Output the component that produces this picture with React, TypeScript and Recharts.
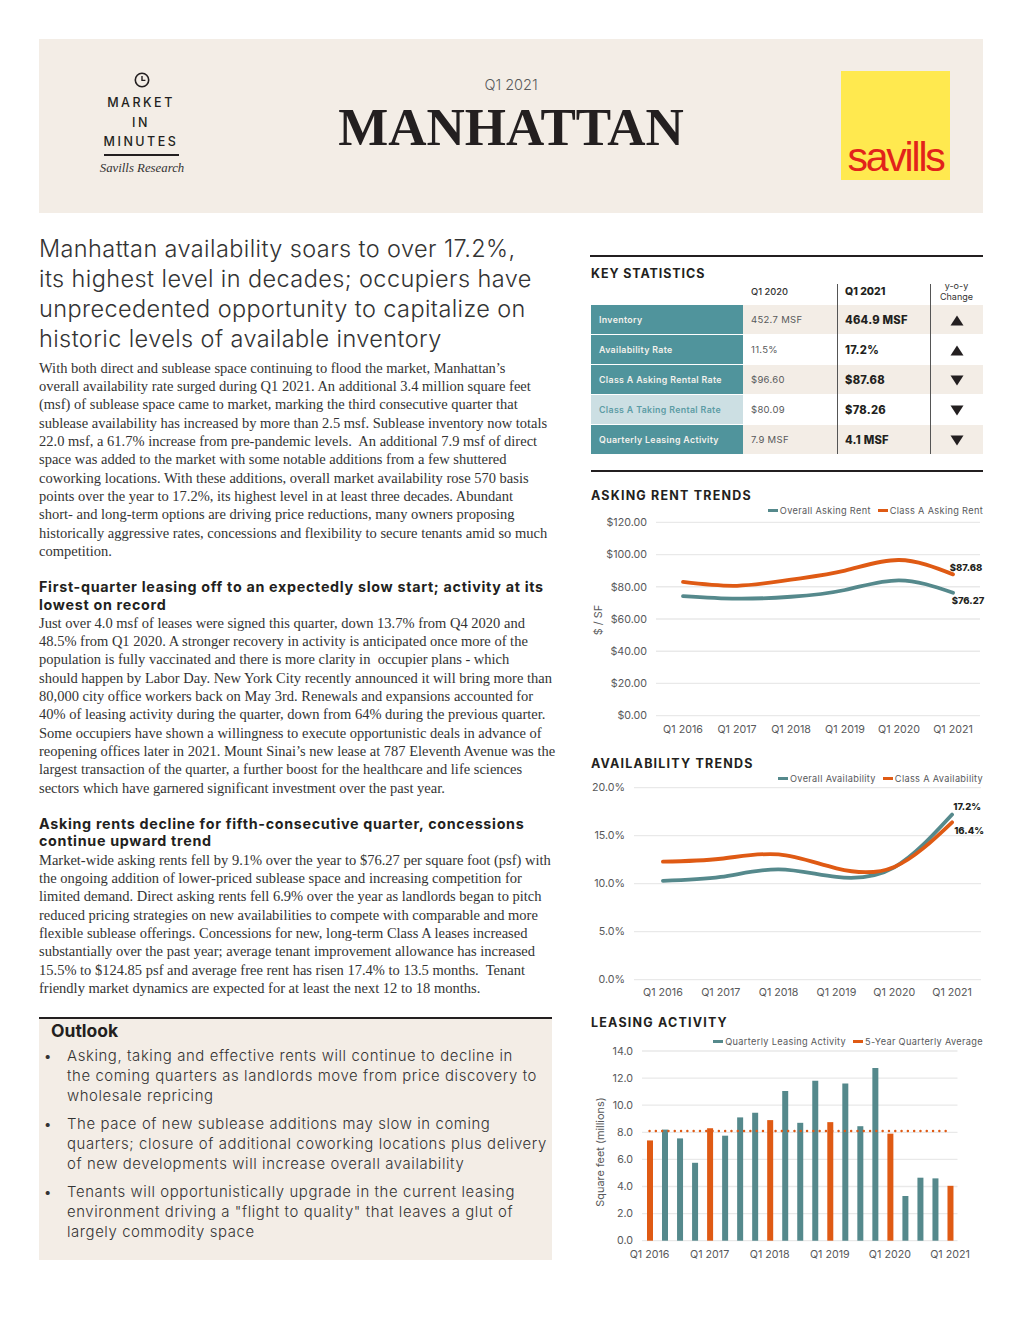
import React from 'react';
import {
  LineChart, Line, ComposedChart, Bar, Cell, XAxis, YAxis, CartesianGrid, Legend,
} from 'recharts';

const TEAL = '#55898C';
const ORANGE = '#DF5A14';
const BEIGE = '#F3EDE6';
const INK = '#231F20';
const GREY = '#58595B';
const SANS = 'Inter, "Open Sans", sans-serif';
const SERIF = '"Liberation Serif", serif';

const years = ['Q1 2016', 'Q1 2017', 'Q1 2018', 'Q1 2019', 'Q1 2020', 'Q1 2021'];

const overallRent = [74.2, 72.6, 73.8, 78.0, 84.0, 76.27];
const classARent = [83.0, 80.6, 84.4, 90.0, 96.6, 87.68];
const rentTicks = [0, 20, 40, 60, 80, 100, 120];

const overallAvail = [10.3, 10.7, 11.5, 10.7, 11.7, 17.2];
const classAAvail = [12.3, 12.6, 13.05, 11.6, 11.75, 16.4];
const availTicks = [0, 5, 10, 15, 20];

const quarters = [
  'Q1 2016', 'Q2 2016', 'Q3 2016', 'Q4 2016',
  'Q1 2017', 'Q2 2017', 'Q3 2017', 'Q4 2017',
  'Q1 2018', 'Q2 2018', 'Q3 2018', 'Q4 2018',
  'Q1 2019', 'Q2 2019', 'Q3 2019', 'Q4 2019',
  'Q1 2020', 'Q2 2020', 'Q3 2020', 'Q4 2020',
  'Q1 2021',
];
const leasing = [7.4, 8.2, 7.55, 5.75, 8.3, 7.75, 9.1, 9.45, 8.9, 11.05, 8.7, 11.8, 8.75, 11.6, 8.45, 12.75, 7.9, 3.3, 4.65, 4.6, 4.05];
const fiveYearAvg = [8.1, 8.1, 8.1, 8.1, 8.1, 8.1, 8.1, 8.1, 8.1, 8.1, 8.1, 8.1, 8.1, 8.1, 8.1, 8.1, 8.1, 8.1, 8.1, 8.1, 8.1];
const leasingTicks = [0, 2, 4, 6, 8, 10, 12, 14];

const rentData = years.map((q, i) => ({ q, overall: overallRent[i], classA: classARent[i] }));
const availData = years.map((q, i) => ({ q, overall: overallAvail[i], classA: classAAvail[i] }));
const leasingData = quarters.map((q, i) => ({ q, leasing: leasing[i], avg: fiveYearAvg[i] }));

const statLabels = ['Inventory', 'Availability Rate', 'Class A Asking Rental Rate', 'Class A Taking Rental Rate', 'Quarterly Leasing Activity'];
const statPrev = ['452.7 MSF', '11.5%', '$96.60', '$80.09', '7.9 MSF'];
const statCurr = ['464.9 MSF', '17.2%', '$87.68', '$78.26', '4.1 MSF'];
const statUp = [true, true, false, false, false];

const headline = [
  'Manhattan availability soars to over 17.2%,',
  'its highest level in decades; occupiers have',
  'unprecedented opportunity to capitalize on',
  'historic levels of available inventory',
];
const para1 = [
  'With both direct and sublease space continuing to flood the market, Manhattan’s',
  'overall availability rate surged during Q1 2021. An additional 3.4 million square feet',
  '(msf) of sublease space came to market, marking the third consecutive quarter that',
  'sublease availability has increased by more than 2.5 msf. Sublease inventory now totals',
  '22.0 msf, a 61.7% increase from pre-pandemic levels.  An additional 7.9 msf of direct',
  'space was added to the market with some notable additions from a few shuttered',
  'coworking locations. With these additions, overall market availability rose 570 basis',
  'points over the year to 17.2%, its highest level in at least three decades. Abundant',
  'short- and long-term options are driving price reductions, many owners proposing',
  'historically aggressive rates, concessions and flexibility to secure tenants amid so much',
  'competition.',
];
const head2 = [
  'First-quarter leasing off to an expectedly slow start; activity at its',
  'lowest on record',
];
const para2 = [
  'Just over 4.0 msf of leases were signed this quarter, down 13.7% from Q4 2020 and',
  '48.5% from Q1 2020. A stronger recovery in activity is anticipated once more of the',
  'population is fully vaccinated and there is more clarity in  occupier plans - which',
  'should happen by Labor Day. New York City recently announced it will bring more than',
  '80,000 city office workers back on May 3rd. Renewals and expansions accounted for',
  '40% of leasing activity during the quarter, down from 64% during the previous quarter.',
  'Some occupiers have shown a willingness to execute opportunistic deals in advance of',
  'reopening offices later in 2021. Mount Sinai’s new lease at 787 Eleventh Avenue was the',
  'largest transaction of the quarter, a further boost for the healthcare and life sciences',
  'sectors which have garnered significant investment over the past year.',
];
const head3 = [
  'Asking rents decline for fifth-consecutive quarter, concessions',
  'continue upward trend',
];
const para3 = [
  'Market-wide asking rents fell by 9.1% over the year to $76.27 per square foot (psf) with',
  'the ongoing addition of lower-priced sublease space and increasing competition for',
  'limited demand. Direct asking rents fell 6.9% over the year as landlords began to pitch',
  'reduced pricing strategies on new availabilities to compete with comparable and more',
  'flexible sublease offerings. Concessions for new, long-term Class A leases increased',
  'substantially over the past year; average tenant improvement allowance has increased',
  '15.5% to $124.85 psf and average free rent has risen 17.4% to 13.5 months.  Tenant',
  'friendly market dynamics are expected for at least the next 12 to 18 months.',
];
const outlook = [
  ['Asking, taking and effective rents will continue to decline in', 'the coming quarters as landlords move from price discovery to', 'wholesale repricing'],
  ['The pace of new sublease additions may slow in coming', 'quarters; closure of additional coworking locations plus delivery', 'of new developments will increase overall availability'],
  ['Tenants will opportunistically upgrade in the current leasing', 'environment driving a "flight to quality" that leaves a glut of', 'largely commodity space'],
];

// one absolutely placed block of text, cy = centre of first line
const Text: React.FC<{ x: number; cy: number; lh?: number; lines: string[]; style?: React.CSSProperties; width?: number }> = ({ x, cy, lh = 18.3, lines, style, width }) => (
  <div style={{ position: 'absolute', left: x, top: cy - lh / 2, width, lineHeight: `${lh}px`, whiteSpace: 'pre', ...style }}>
    {lines.map((l, i) => <div key={i} style={{ height: lh }}>{l}</div>)}
  </div>
);

const Box: React.FC<{ x: number; y: number; w: number; h: number; bg: string }> = ({ x, y, w, h, bg }) => (
  <div style={{ position: 'absolute', left: x, top: y, width: w, height: h, background: bg }} />
);

const SectionTitle: React.FC<{ x?: number; cy: number; label: string; spacing?: number }> = ({ x = 591, cy, label, spacing = 1.2 }) => (
  <Text x={x} cy={cy} lh={18} lines={[label]} style={{ fontFamily: SANS, fontWeight: 700, fontSize: 12.5, letterSpacing: spacing, color: INK }} />
);

const ChartLegend = ({ payload, gap = 7 }: any) => (
  <div style={{ display: 'flex', alignItems: 'center', fontFamily: SANS, fontSize: 9.2, letterSpacing: 0.33, color: GREY, whiteSpace: 'nowrap' }}>
    {(payload || []).map((p: any, i: number) => (
      <span key={p.value} style={{ display: 'flex', alignItems: 'center', marginLeft: i ? gap : 0 }}>
        <span style={{ display: 'inline-block', width: 10, height: 2.5, background: p.color, marginRight: 2 }} />
        {p.value}
      </span>
    ))}
  </div>
);

const endLabel = (lastIndex: number, dx: number, dy: number, fmt: (v: number) => string) => (props: any) => {
  if (props.index !== lastIndex) return <g key={props.index} />;
  return (
    <text key={props.index} x={props.x + dx} y={props.y + dy} textAnchor="middle" dominantBaseline="central"
      style={{ fontFamily: SANS, fontSize: 9.5, fontWeight: 800, fill: INK }}>
      {fmt(props.value)}
    </text>
  );
};

const tickStyle = { fill: GREY, fontSize: 10.7, fontFamily: SANS };
const axisTitle = { fill: GREY, fontSize: 10.9, fontFamily: SANS };
const gridColor = '#E9E9E9';

const RentChart = () => (
  <div style={{ position: 'absolute', left: 585, top: 500 }}>
    <LineChart width={425} height={240} data={rentData} margin={{ top: 22.3, right: 30, left: 0, bottom: 0.3 }}>
      <CartesianGrid horizontal vertical={false} stroke={gridColor} strokeWidth={1.3} />
      <XAxis dataKey="q" scale="band" tick={tickStyle} tickLine={false} axisLine={false} tickSize={0} tickMargin={10} height={24} interval={0} />
      <YAxis width={71} domain={[0, 120]} ticks={rentTicks} tick={tickStyle} tickLine={false} axisLine={false} tickSize={0} tickMargin={9}
        tickFormatter={(v: number) => `$${v.toFixed(2)}`} />
      <text x={13} y={120} transform="rotate(-90 13 120)" textAnchor="middle" dominantBaseline="central" style={axisTitle}>$ / SF</text>
      <Legend layout="vertical" align="center" verticalAlign="middle" itemSorter={null}
        wrapperStyle={{ top: 5, right: 27, left: 'auto', width: 'auto' }} content={<ChartLegend />} />
      <Line dataKey="overall" name="Overall Asking Rent" type="natural" stroke={TEAL} strokeWidth={3.8} strokeLinecap="round" dot={false} isAnimationActive={false}
        label={endLabel(5, 15, 8, v => `$${v.toFixed(2)}`)} />
      <Line dataKey="classA" name="Class A Asking Rent" type="natural" stroke={ORANGE} strokeWidth={3.8} strokeLinecap="round" dot={false} isAnimationActive={false}
        label={endLabel(5, 13, -7, v => `$${v.toFixed(2)}`)} />
    </LineChart>
  </div>
);

const AvailChart = () => (
  <div style={{ position: 'absolute', left: 585, top: 766 }}>
    <LineChart width={425} height={240} data={availData} margin={{ top: 21.7, right: 29, left: 0, bottom: 0.3 }}>
      <CartesianGrid horizontal vertical={false} stroke={gridColor} strokeWidth={1.3} />
      <XAxis dataKey="q" scale="band" tick={tickStyle} tickLine={false} axisLine={false} tickSize={0} tickMargin={9} height={26} interval={0} />
      <YAxis width={49} domain={[0, 20]} ticks={availTicks} tick={tickStyle} tickLine={false} axisLine={false} tickSize={0} tickMargin={9}
        tickFormatter={(v: number) => `${v.toFixed(1)}%`} />
      <Legend layout="vertical" align="center" verticalAlign="middle" itemSorter={null}
        wrapperStyle={{ top: 7, right: 27, left: 'auto', width: 'auto' }} content={<ChartLegend />} />
      <Line dataKey="overall" name="Overall Availability" type="natural" stroke={TEAL} strokeWidth={3.8} strokeLinecap="round" dot={false} isAnimationActive={false}
        label={endLabel(5, 15, -8, v => `${v.toFixed(1)}%`)} />
      <Line dataKey="classA" name="Class A Availability" type="natural" stroke={ORANGE} strokeWidth={3.8} strokeLinecap="round" dot={false} isAnimationActive={false}
        label={endLabel(5, 17, 8, v => `${v.toFixed(1)}%`)} />
    </LineChart>
  </div>
);

const LeasingChart = () => (
  <div style={{ position: 'absolute', left: 585, top: 1030 }}>
    <ComposedChart width={425} height={240} data={leasingData} margin={{ top: 21, right: 52.5, left: 0, bottom: 0.3 }}>
      <CartesianGrid horizontal vertical={false} stroke={gridColor} strokeWidth={1.3} />
      <XAxis dataKey="q" tick={tickStyle} tickLine={false} axisLine={false} tickSize={0} tickMargin={10} height={29} interval={3} />
      <YAxis width={57} domain={[0, 14]} ticks={leasingTicks} tick={tickStyle} tickLine={false} axisLine={false} tickSize={0} tickMargin={9}
        tickFormatter={(v: number) => v.toFixed(1)} />
      <text x={15} y={122} transform="rotate(-90 15 122)" textAnchor="middle" dominantBaseline="central" style={axisTitle}>Square feet (millions)</text>
      <Legend layout="vertical" align="center" verticalAlign="middle" itemSorter={null}
        wrapperStyle={{ top: 6, right: 27, left: 'auto', width: 'auto' }} content={<ChartLegend />} />
      <Bar dataKey="leasing" name="Quarterly Leasing Activity" fill={TEAL} barSize={6} isAnimationActive={false}>
        {quarters.map((q) => <Cell key={q} fill={q.startsWith('Q1') ? ORANGE : TEAL} />)}
      </Bar>
      <Line dataKey="avg" name="5-Year Quarterly Average" type="linear" stroke={ORANGE} strokeWidth={2.4} strokeLinecap="round" strokeDasharray="0.1 6.2" dot={false} isAnimationActive={false} />
    </ComposedChart>
  </div>
);

const StatsTable = () => (
  <>
    <Box x={590} y={255} w={393} h={2} bg={INK} />
    <SectionTitle cy={273.5} label="KEY STATISTICS" spacing={0.9} />
    <Text x={751} cy={292} lh={14} lines={['Q1 2020']} style={{ fontFamily: SANS, fontSize: 9.3, fontWeight: 500, color: '#333' }} />
    <Text x={845} cy={292} lh={14} lines={['Q1 2021']} style={{ fontFamily: SANS, fontSize: 10.5, fontWeight: 800, color: INK }} />
    <div style={{ position: 'absolute', left: 930, top: 281, width: 53, textAlign: 'center', fontFamily: SANS, fontSize: 9, lineHeight: '10.5px', color: '#333' }}>y-o-y<br />Change</div>
    {statLabels.map((label, i) => {
      const y = 305 + i * 30;
      const light = i === 3;
      return (
        <React.Fragment key={label}>
          {i % 2 === 0 && <Box x={743} y={y} w={240} h={29} bg={BEIGE} />}
          <Box x={591} y={y} w={152} h={29} bg={light ? '#CCDFE3' : '#50949C'} />
          <Text x={599} cy={y + 15} lh={16} lines={[label]} style={{ fontFamily: SANS, fontSize: 8.8, fontWeight: 600, letterSpacing: 0.35, color: light ? '#5C9CA5' : '#F4F1EC' }} />
          <Text x={751} cy={y + 15} lh={16} lines={[statPrev[i]]} style={{ fontFamily: SANS, fontSize: 9.5, color: GREY, letterSpacing: 0.3 }} />
          <Text x={845} cy={y + 15} lh={16} lines={[statCurr[i]]} style={{ fontFamily: SANS, fontSize: 11.2, fontWeight: 800, color: INK, letterSpacing: 0.25 }} />
          <svg style={{ position: 'absolute', left: 950, top: y + 10 }} width={14} height={11}>
            <polygon points={statUp[i] ? '0.5,10.5 13.5,10.5 7,0.5' : '0.5,0.5 13.5,0.5 7,10.5'} fill={INK} />
          </svg>
        </React.Fragment>
      );
    })}
    <Box x={837} y={284} w={1.2} h={170} bg="#555" />
    <Box x={930} y={284} w={1.2} h={170} bg="#555" />
    <Box x={591} y={470} w={392} h={2} bg={INK} />
  </>
);

const Header = () => (
  <>
    <Box x={39} y={39} w={944} h={174} bg={BEIGE} />
    <svg style={{ position: 'absolute', left: 133, top: 71 }} width={18} height={18}>
      <circle cx={9} cy={9} r={6.7} fill="none" stroke={INK} strokeWidth={1.6} />
      <path d="M9 5 V9.4 H12.4" fill="none" stroke={INK} strokeWidth={1.4} />
    </svg>
    {['MARKET', 'IN', 'MINUTES'].map((w, i) => (
      <div key={w} style={{ position: 'absolute', left: 91, width: 100, top: 94 + i * 19.5, textAlign: 'center', fontFamily: SANS, fontSize: 12.5, lineHeight: '18px', fontWeight: 500, letterSpacing: 2.5, color: INK }}>{w}</div>
    ))}
    <Box x={104} y={154} w={75} h={1.5} bg={INK} />
    <div style={{ position: 'absolute', left: 92, width: 100, top: 159, textAlign: 'center', fontFamily: SERIF, fontStyle: 'italic', fontSize: 12.8, lineHeight: '18px', color: '#333', whiteSpace: 'nowrap' }}>Savills Research</div>
    <div style={{ position: 'absolute', left: 411, width: 200, top: 75, textAlign: 'center', fontFamily: SANS, fontSize: 14.5, fontWeight: 300, lineHeight: '20px', color: GREY }}>Q1 2021</div>
    <div style={{ position: 'absolute', left: 311, width: 400, top: 95, textAlign: 'center', fontFamily: SERIF, fontSize: 53, fontWeight: 700, lineHeight: '64px', color: INK }}>MANHATTAN</div>
    <Box x={841} y={71} w={109} h={109} bg="#FFE94F" />
    <div style={{ position: 'absolute', left: 841, width: 109, top: 132, textAlign: 'center', fontFamily: '"Liberation Sans", sans-serif', fontSize: 41, lineHeight: '50px', letterSpacing: -2.2, color: '#E2231A' }}>savills</div>
  </>
);

const bodyStyle: React.CSSProperties = { fontFamily: SERIF, fontSize: 14.5, color: '#333' };
const subStyle: React.CSSProperties = { fontFamily: SANS, fontSize: 14.3, fontWeight: 700, letterSpacing: 0.7, color: INK };

const LeftColumn = () => (
  <>
    <Text x={39} cy={249} lh={30} lines={headline} style={{ fontFamily: SANS, fontSize: 23.5, fontWeight: 300, letterSpacing: 0.4, color: '#333' }} />
    <Text x={39} cy={368} lines={para1} style={bodyStyle} />
    <Text x={39} cy={587} lh={17.5} lines={head2} style={subStyle} />
    <Text x={39} cy={623} lines={para2} style={bodyStyle} />
    <Text x={39} cy={823.5} lh={17.5} lines={head3} style={subStyle} />
    <Text x={39} cy={860} lines={para3} style={bodyStyle} />
    <Box x={39} y={1018} w={513} h={242} bg={BEIGE} />
    <Box x={39} y={1017} w={513} h={1.5} bg={INK} />
    <Text x={51} cy={1031} lh={20} lines={['Outlook']} style={{ fontFamily: SANS, fontSize: 17.5, fontWeight: 700, color: INK }} />
    {outlook.map((item, i) => {
      const cy = [1056, 1124, 1191.5][i];
      return (
        <React.Fragment key={i}>
          <Text x={44} cy={cy} lh={20} lines={['•']} style={{ fontFamily: SANS, fontSize: 13, color: '#333' }} />
          <Text x={67} cy={cy} lh={20} lines={item} style={{ fontFamily: SANS, fontSize: 14.9, fontWeight: 300, letterSpacing: 0.6, color: '#333' }} />
        </React.Fragment>
      );
    })}
  </>
);

export default function App() {
  return (
    <div style={{ position: 'absolute', left: 0, top: 0, width: 1020, height: 1320, background: '#fff', overflow: 'hidden' }}>
      <Header />
      <LeftColumn />
      <StatsTable />
      <SectionTitle cy={495.5} label="ASKING RENT TRENDS" />
      <RentChart />
      <SectionTitle cy={764} label="AVAILABILITY TRENDS" />
      <AvailChart />
      <SectionTitle cy={1022.5} label="LEASING ACTIVITY" />
      <LeasingChart />
    </div>
  );
}
